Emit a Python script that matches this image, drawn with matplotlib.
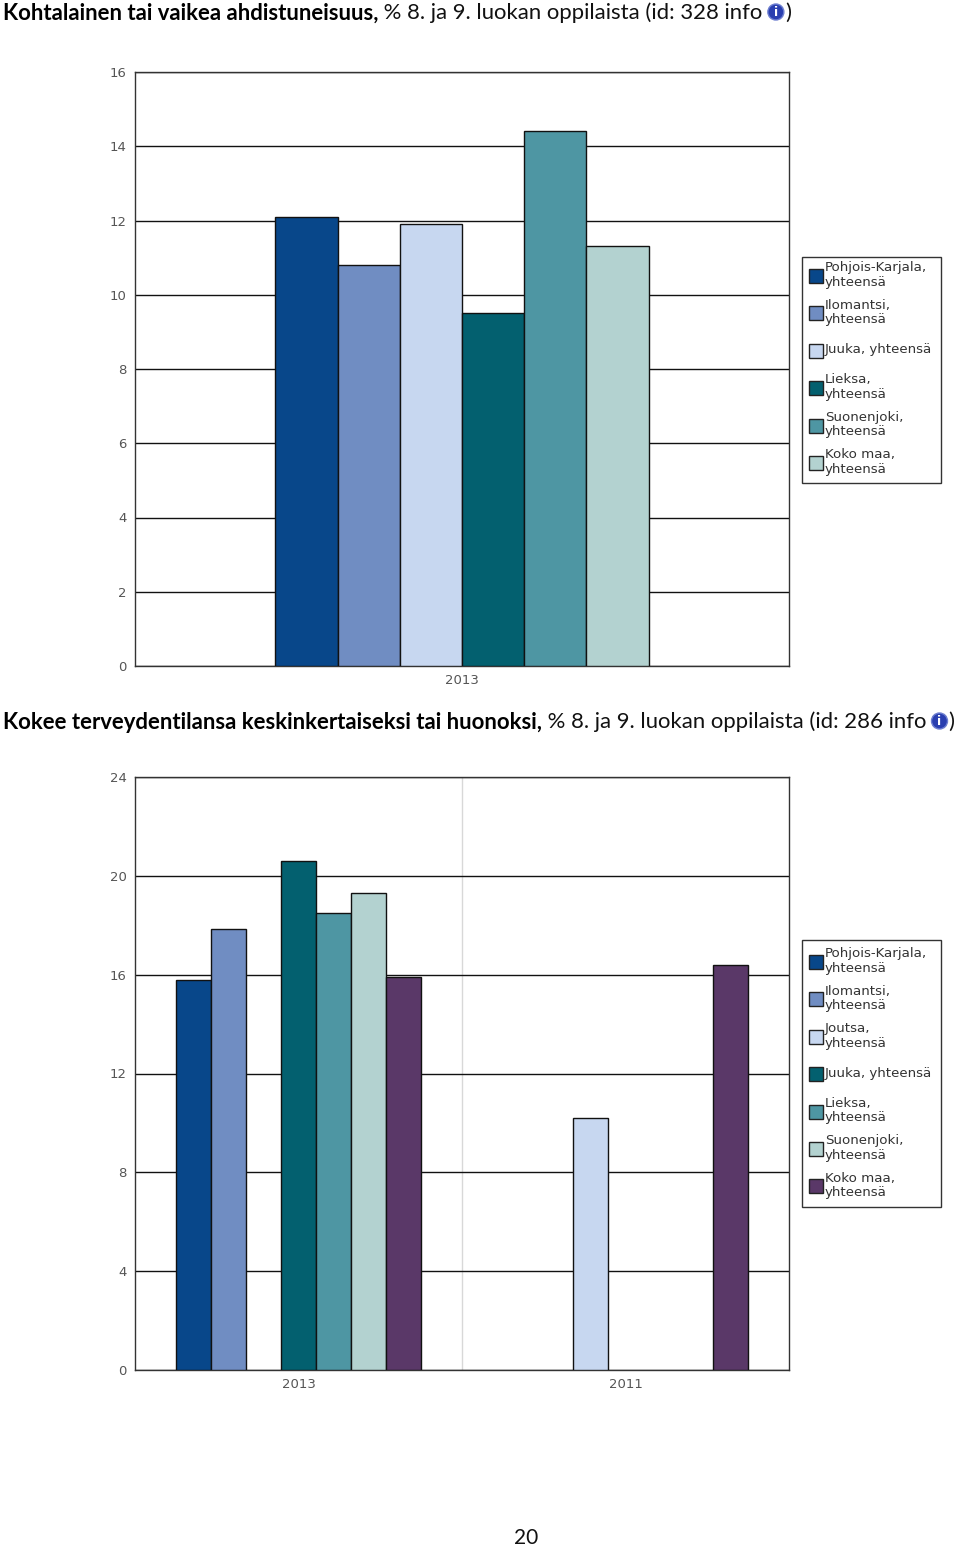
from matplotlib import pyplot as plt
from matplotlib.patches import Rectangle, Circle
import numpy as np

W, H = 960, 1549

title_bold_1 = "Kohtalainen tai vaikea ahdistuneisuus,"
title_rest_1 = " % 8. ja 9. luokan oppilaista (id: 328 info"
title_bold_2 = "Kokee terveydentilansa keskinkertaiseksi tai huonoksi,"
title_rest_2 = " % 8. ja 9. luokan oppilaista (id: 286 info"

palette_1 = ["#08478A", "#708DC2", "#C7D7F0", "#03606F", "#4E96A3", "#B3D2D0"]
palette_2 = ["#08478A", "#708DC2", "#C7D7F0", "#03606F", "#4E96A3", "#B3D2D0", "#5A3868"]

series_1 = ["Pohjois-Karjala,\nyhteensä", "Ilomantsi,\nyhteensä", "Juuka, yhteensä",
            "Lieksa,\nyhteensä", "Suonenjoki,\nyhteensä", "Koko maa,\nyhteensä"]
series_2 = ["Pohjois-Karjala,\nyhteensä", "Ilomantsi,\nyhteensä", "Joutsa,\nyhteensä", "Juuka, yhteensä",
            "Lieksa,\nyhteensä", "Suonenjoki,\nyhteensä", "Koko maa,\nyhteensä"]

years_1 = ["2013"]
values_1 = [[12.1], [10.8], [11.9], [9.5], [14.4], [11.3]]
ticks_1 = [0, 2, 4, 6, 8, 10, 12, 14, 16]

years_2 = ["2013", "2011"]
values_2 = [[15.8, None], [17.85, None], [None, 10.2], [20.6, None],
            [18.5, None], [19.3, None], [15.9, 16.4]]
ticks_2 = [0, 4, 8, 12, 16, 20, 24]

FRAME = "#333333"
LABEL = "#555555"
TITLE_SIZE = 15.9

fig = plt.figure(figsize=(W / 100, H / 100), dpi=100, facecolor="white")
overlay = fig.add_axes([0, 0, 1, 1], zorder=5)
overlay.set_xlim(0, W)
overlay.set_ylim(H, 0)
overlay.axis("off")


def chain_title(bold, rest, y):
  renderer = fig.canvas.get_renderer()
  t = overlay.text(3, y, bold, family="Lato", weight="bold", fontsize=TITLE_SIZE, va="center", color="black")
  x = t.get_window_extent(renderer).x1
  t2 = overlay.text(x, y, rest, family="Lato", fontsize=TITLE_SIZE, va="center", color="#111111")
  x = t2.get_window_extent(renderer).x1 + 5
  # info icon
  overlay.add_patch(Circle((x + 8, y - 1), 8, fc="#2A3FB0", ec="#6E7FD0", lw=1))
  overlay.text(x + 8, y - 1, "i", color="white", weight="bold", fontsize=9, ha="center", va="center")
  overlay.text(x + 17, y, ")", family="Lato", fontsize=TITLE_SIZE, va="center", color="#111111")


def draw_chart(top, bottom, years, values, ticks, colors, bar_w):
  ax = fig.add_axes([135 / W, 1 - bottom / H, (789 - 135) / W, (bottom - top) / H])
  n = len(values)
  x = np.arange(len(years))
  for i, vals in enumerate(values):
    for j, v in enumerate(vals):
      if v is None:
        continue
      ax.bar(x[j] + (i - (n - 1) / 2) * bar_w, v, bar_w, color=colors[i],
             edgecolor="#111111", linewidth=1, zorder=3)
  ax.set_xlim(-0.5, len(years) - 0.5)
  ax.set_ylim(ticks[0], ticks[-1])
  ax.set_yticks(ticks)
  ax.set_xticks(x)
  ax.set_xticklabels(years)
  ax.tick_params(length=0, labelsize=9.5, labelcolor=LABEL, pad=6)
  ax.grid(axis="y", color="#111111", linewidth=1, zorder=1)
  for xv in x[:-1]:
    ax.axvline(xv + 0.5, color="#D8D8D8", linewidth=1, zorder=1)
  for s in ax.spines.values():
    s.set_color(FRAME)
    s.set_linewidth(1)
  return ax


def draw_legend(left, top, right, bottom, first, step, labels, colors):
  overlay.add_patch(Rectangle((left, top), right - left, bottom - top, fc="white", ec=FRAME, lw=1))
  for i, (label, c) in enumerate(zip(labels, colors)):
    yc = first + i * step
    overlay.add_patch(Rectangle((809, yc - 7), 14, 14, fc=c, ec="#222222", lw=1))
    overlay.text(825, yc - 1, label, fontsize=9.6, color="#333333", va="center", linespacing=1.15)


chain_title(title_bold_1, title_rest_1, 13)
chain_title(title_bold_2, title_rest_2, 722)
draw_chart(72, 666, years_1, values_1, ticks_1, palette_1, 0.0951)
draw_chart(777, 1370, years_2, values_2, ticks_2, palette_2, 0.107)
draw_legend(802, 257, 941, 483, 276, 37.4, series_1, palette_1)
draw_legend(802, 940, 941, 1207, 962, 37.4, series_2, palette_2)
overlay.text(526, 1538, "20", family="Lato", fontsize=15, ha="center", va="center", color="#111111")

fig.savefig("out.png", dpi=100)
